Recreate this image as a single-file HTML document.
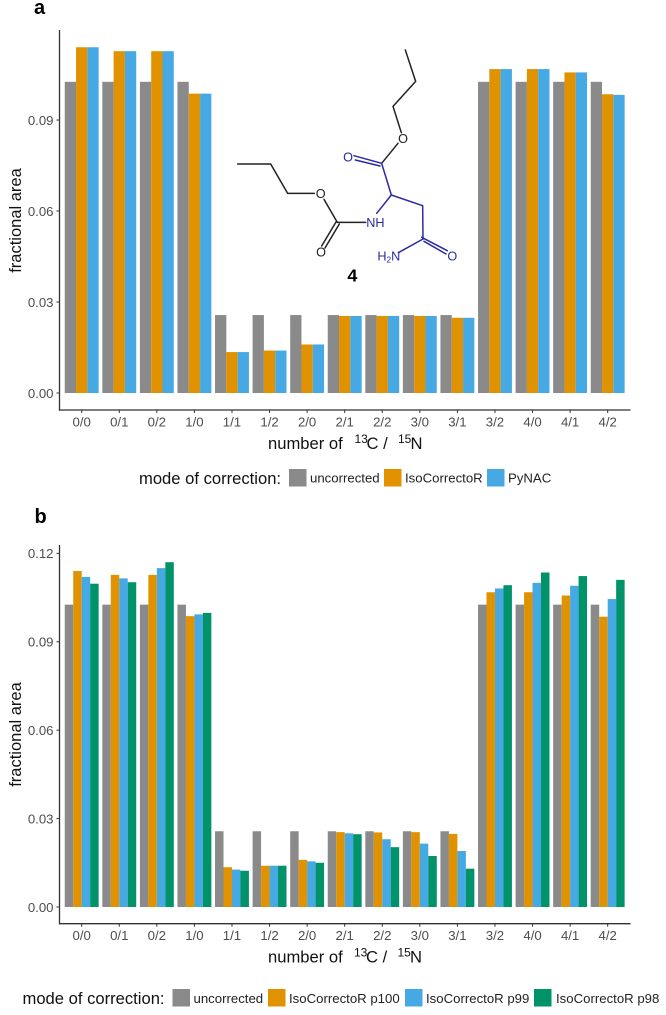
<!DOCTYPE html>
<html lang="en">
<head>
<meta charset="utf-8">
<title>Fractional area by number of 13C / 15N</title>
<style>
html,body{margin:0;padding:0;background:#fff;}
#figure{display:block;width:666px;height:1015px;font-family:"Liberation Sans",sans-serif;}
text{font-family:"Liberation Sans",sans-serif;}
</style>
</head>
<body>
<svg id="figure" xmlns="http://www.w3.org/2000/svg" width="666" height="1015" viewBox="0 0 666 1015">
  <g id="panel-a"></g>
  <g id="panel-b"></g>

  <text x="34" y="14" font-size="20" font-weight="bold" fill="#000">a</text>
  <text x="34.5" y="523" font-size="20" font-weight="bold" fill="#000">b</text>

  <text transform="translate(21,220.5) rotate(-90)" text-anchor="middle" font-size="16.5" fill="#111">fractional area</text>
  <text transform="translate(21,734.5) rotate(-90)" text-anchor="middle" font-size="16.5" fill="#111">fractional area</text>

  <text y="449" font-size="16.6" fill="#111"><tspan x="268">number of</tspan><tspan x="354.5" dy="-6" font-size="12">13</tspan><tspan x="366.5" dy="6">C /</tspan><tspan x="398" dy="-6" font-size="12">15</tspan><tspan x="410.5" dy="6">N</tspan></text>
  <text y="962.5" font-size="16.6" fill="#111"><tspan x="268">number of</tspan><tspan x="354" dy="-6" font-size="12">13</tspan><tspan x="366" dy="6">C /</tspan><tspan x="397.5" dy="-6" font-size="12">15</tspan><tspan x="410" dy="6">N</tspan></text>

  <g>
    <text x="139" y="484" font-size="16.6" fill="#111">mode of correction:</text>
    <rect x="289" y="469" width="17.5" height="17.5" fill="#8a8a8a"/>
    <text x="310" y="482.5" font-size="13.2" fill="#222">uncorrected</text>
    <rect x="384" y="469" width="17.5" height="17.5" fill="#e09200"/>
    <text x="405" y="482.5" font-size="13.2" fill="#222">IsoCorrectoR</text>
    <rect x="487" y="469" width="17.5" height="17.5" fill="#46a9e4"/>
    <text x="508" y="482.5" font-size="13.2" fill="#222">PyNAC</text>
  </g>

  <g>
    <text x="22.5" y="1004" font-size="16.6" fill="#111">mode of correction:</text>
    <rect x="172.5" y="989" width="17.5" height="17.5" fill="#8a8a8a"/>
    <text x="193.5" y="1003" font-size="13.2" fill="#222">uncorrected</text>
    <rect x="268" y="989" width="17.5" height="17.5" fill="#e09200"/>
    <text x="289" y="1003" font-size="13.2" fill="#222">IsoCorrectoR p100</text>
    <rect x="405" y="989" width="17.5" height="17.5" fill="#46a9e4"/>
    <text x="426" y="1003" font-size="13.2" fill="#222">IsoCorrectoR p99</text>
    <rect x="534" y="989" width="17.5" height="17.5" fill="#009268"/>
    <text x="556" y="1003" font-size="13.2" fill="#222">IsoCorrectoR p98</text>
  </g>

  <g transform="translate(200,30) scale(0.33333)" fill="none" stroke-width="4.5" stroke-linecap="round" stroke-linejoin="round">
    <g stroke="#222">
      <path d="M616 60 L647 154 L579 229 L604 308"/>
      <path d="M594 340 L545 400"/>
      <path d="M113 402 L212 402 L263 490 L343 490"/>
      <path d="M372 508 L412 577"/>
      <path d="M412 577 L497 577"/>
      <path d="M408 576 L365 648 M418 582 L375 654"/>
    </g>
    <g stroke="#2a2aa5">
      <path d="M462 377 L545 400 M466 390 L540 408"/>
      <path d="M545 400 L574 495 L668 527 L669 627"/>
      <path d="M574 495 L530 550"/>
      <path d="M669 627 L595 668"/>
      <path d="M665 622 L742 662 M672 634 L738 672"/>
    </g>
    <g stroke="none" font-size="38">
      <text x="609" y="339" text-anchor="middle" fill="#222">O</text>
      <text x="362" y="504" text-anchor="middle" fill="#222">O</text>
      <text x="363" y="679" text-anchor="middle" fill="#222">O</text>
      <text x="444" y="394" text-anchor="middle" fill="#2a2aa5">O</text>
      <text x="757" y="692" text-anchor="middle" fill="#2a2aa5">O</text>
      <text x="526" y="591" text-anchor="middle" fill="#2a2aa5">NH</text>
      <text x="532" y="692" fill="#2a2aa5">H<tspan font-size="25" dy="6">2</tspan><tspan dy="-6">N</tspan></text>
    </g>
    <text x="457" y="755" text-anchor="middle" font-size="54" font-weight="bold" stroke="none" fill="#000">4</text>
  </g>
</svg>
<script>
var categories = ['0/0','0/1','0/2','1/0','1/1','1/2','2/0','2/1','2/2','3/0','3/1','3/2','4/0','4/1','4/2'];
var yTicks = [0, 0.03, 0.06, 0.09];
var yTicksB = [0, 0.03, 0.06, 0.09, 0.12];
var uncorrected = [0.1026,0.1026,0.1026,0.1026,0.0257,0.0257,0.0257,0.0257,0.0257,0.0257,0.0257,0.1026,0.1026,0.1026,0.1026];
var isoCorrectoR = [0.1140,0.1127,0.1127,0.0987,0.0135,0.0140,0.0160,0.0254,0.0254,0.0254,0.0248,0.1068,0.1068,0.1057,0.0985];
var pyNAC = [0.1140,0.1127,0.1127,0.0987,0.0135,0.0140,0.0160,0.0254,0.0254,0.0254,0.0248,0.1068,0.1068,0.1057,0.0983];
var p100 = [0.1140,0.1127,0.1127,0.0987,0.0135,0.0140,0.0160,0.0254,0.0253,0.0254,0.0248,0.1068,0.1068,0.1057,0.0985];
var p99 = [0.1120,0.1115,0.1150,0.0993,0.0127,0.0140,0.0155,0.0250,0.0230,0.0215,0.0190,0.1081,0.1100,0.1090,0.1045];
var p98 = [0.1097,0.1102,0.1170,0.0998,0.0123,0.0140,0.0150,0.0247,0.0203,0.0173,0.0130,0.1092,0.1135,0.1123,0.1110];

var SVG_NS = 'http://www.w3.org/2000/svg';
var GREY = '#8a8a8a', ORANGE = '#e09200', BLUE = '#46a9e4', GREEN = '#009268';

function node(parent, tag, attrs) {
  var el = document.createElementNS(SVG_NS, tag);
  for (var k in attrs) el.setAttribute(k, attrs[k]);
  parent.appendChild(el);
  return el;
}

function drawPanel(cfg) {
  var root = document.getElementById(cfg.id);
  var xScale = function (i) { return 81.7 + i * 37.57; };
  var yScale = function (v) { return cfg.zeroY - v * cfg.pxPerUnit; };
  var groupW = 33.9;
  var barW = groupW / cfg.series.length;

  cfg.series.forEach(function (s) {
    var sIndex = cfg.series.indexOf(s);
    s.values.forEach(function (v, i) {
      var bar = node(root, 'rect', {
        x: xScale(i) - groupW / 2 + sIndex * barW,
        y: yScale(v),
        width: barW,
        height: cfg.zeroY - yScale(v),
        fill: s.color
      });
      
      
    });
  });

  var yAxis = node(root, 'line', {x1: 59.5, x2: 59.5, y1: cfg.axisTop, y2: cfg.axisY + 0.7, stroke: '#333', 'stroke-width': 1.3});
  
  
  var xAxis = node(root, 'line', {x1: 59, x2: 630.5, y1: cfg.axisY, y2: cfg.axisY, stroke: '#333', 'stroke-width': 1.3});
  
  

  cfg.ticks.forEach(function (t) {
    var y = yScale(t);
    var tick = node(root, 'line', {x1: 56.5, x2: 59.5, y1: y, y2: y, stroke: '#333', 'stroke-width': 1});
    
    
    var label = node(root, 'text', {x: 53.5, y: y + 4.8, 'text-anchor': 'end', 'font-size': 13.2, fill: '#4d4d4d'});
    label.textContent = t.toFixed(2);
    
    
  });

  categories.forEach(function (c, i) {
    var x = xScale(i);
    var tick = node(root, 'line', {x1: x, x2: x, y1: cfg.axisY, y2: cfg.axisY + 3, stroke: '#333', 'stroke-width': 1});
    
    
    var label = node(root, 'text', {x: x, y: cfg.axisY + 16.5, 'text-anchor': 'middle', 'font-size': 13.2, fill: '#4d4d4d'});
    label.textContent = c;
    
    
  });
}

drawPanel({
  id: 'panel-a', zeroY: 393, pxPerUnit: 3033, axisTop: 30, axisY: 410, ticks: yTicks,
  series: [
    {values: uncorrected, color: GREY},
    {values: isoCorrectoR, color: ORANGE},
    {values: pyNAC, color: BLUE}
  ]
});
drawPanel({
  id: 'panel-b', zeroY: 907, pxPerUnit: 2947, axisTop: 545, axisY: 923.7, ticks: yTicksB,
  series: [
    {values: uncorrected, color: GREY},
    {values: p100, color: ORANGE},
    {values: p99, color: BLUE},
    {values: p98, color: GREEN}
  ]
});
</script>
</body>
</html>
